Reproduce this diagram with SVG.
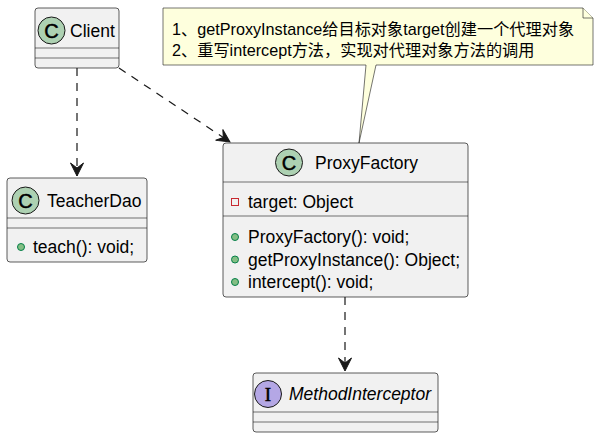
<svg xmlns="http://www.w3.org/2000/svg" width="599" height="442" viewBox="0 0 599 442">
<style>
.box{fill:#F1F1F1;stroke:#181818;stroke-width:0.7}
.sep{stroke:#181818;stroke-width:0.6}
.t{font-family:"Liberation Sans",Arial,sans-serif;font-size:17.5px;fill:#000}
.it{font-style:italic}
.cls{fill:#ADD1B2;stroke:#181818;stroke-width:1}
.ifc{fill:#B4A7E5;stroke:#181818;stroke-width:1}
.glyph{font-family:"Liberation Sans",Arial,sans-serif;font-size:20px;font-weight:normal;text-anchor:middle;fill:#000;stroke:#000;stroke-width:0.5}
.gi{font-family:"Liberation Serif","Times New Roman",serif;font-size:19px;font-weight:normal;text-anchor:middle;fill:#000;stroke:#000;stroke-width:0.5}
.pub{fill:#84BE84;stroke:#038048;stroke-width:1}
.priv{fill:none;stroke:#C82930;stroke-width:1}
.note{fill:#FEFFDD;stroke:#181818;stroke-width:0.6}
.nt{font-family:"Liberation Sans","Noto Sans CJK SC",sans-serif;font-size:16.2px;fill:#000}
.edge{fill:none;stroke:#181818;stroke-width:1.2;stroke-dasharray:8,7}
</style>
<defs>
<marker id="arr" markerUnits="userSpaceOnUse" markerWidth="16" markerHeight="16" viewBox="-14 -8 16 16" refX="0" refY="0" orient="auto">
<path d="M0,0 L-13,-6.5 L-8,0 L-13,6.5 Z" fill="#181818" stroke="#181818" stroke-width="1"/>
</marker>
</defs>

<g id="edges">
<path class="edge" d="M77,68 L77,176" marker-end="url(#arr)"/>
<path class="edge" d="M119,68 L230,142" marker-end="url(#arr)"/>
<path class="edge" d="M345,297 L345,371" marker-end="url(#arr)"/>
</g>

<g id="note">
<path class="note" d="M163,8 L583,8 L593,18 L593,65 L376,65 L359,143 L366,65 L163,65 Z"/>
<path class="note" d="M583,8 L583,18 L593,18" fill="none"/>
<text class="nt" x="172" y="35">1、getProxyInstance给目标对象target创建一个代理对象</text>
<text class="nt" x="172" y="56">2、重写intercept方法，实现对代理对象方法的调用</text>
</g>

<g id="Client">
<rect class="box" x="35" y="8" width="84" height="60" rx="3"/>
<line class="sep" x1="35" y1="48" x2="119" y2="48"/>
<line class="sep" x1="35" y1="58" x2="119" y2="58"/>
<circle class="cls" cx="51.5" cy="30.5" r="13.5"/>
<text class="glyph" x="51.5" y="37.5">C</text>
<text class="t" x="70" y="37">Client</text>
</g>

<g id="TeacherDao">
<rect class="box" x="7" y="178" width="140" height="84" rx="3"/>
<line class="sep" x1="7" y1="218" x2="147" y2="218"/>
<line class="sep" x1="7" y1="228" x2="147" y2="228"/>
<circle class="cls" cx="25.5" cy="200.5" r="13.5"/>
<text class="glyph" x="25.5" y="207.5">C</text>
<text class="t" x="47" y="207">TeacherDao</text>
<circle class="pub" cx="21" cy="247" r="3.5"/>
<text class="t" x="33" y="253">teach(): void;</text>
</g>

<g id="ProxyFactory">
<rect class="box" x="223" y="143" width="245" height="154" rx="3"/>
<line class="sep" x1="223" y1="182" x2="468" y2="182"/>
<line class="sep" x1="223" y1="216" x2="468" y2="216"/>
<circle class="cls" cx="289" cy="162.5" r="13.5"/>
<text class="glyph" x="289" y="169.5">C</text>
<text class="t" x="315" y="169">ProxyFactory</text>
<rect class="priv" x="231.5" y="198.5" width="7" height="7"/>
<text class="t" x="248" y="208">target: Object</text>
<circle class="pub" cx="235" cy="237" r="3.5"/>
<text class="t" x="248" y="243">ProxyFactory(): void;</text>
<circle class="pub" cx="235" cy="259.5" r="3.5"/>
<text class="t" x="248" y="265.5">getProxyInstance(): Object;</text>
<circle class="pub" cx="235" cy="282" r="3.5"/>
<text class="t" x="248" y="288">intercept(): void;</text>
</g>

<g id="MethodInterceptor">
<rect class="box" x="253" y="373" width="185" height="59" rx="3"/>
<line class="sep" x1="253" y1="412" x2="438" y2="412"/>
<line class="sep" x1="253" y1="422" x2="438" y2="422"/>
<circle class="ifc" cx="268" cy="394" r="13.5"/>
<text class="gi" x="268" y="401">I</text>
<text class="t it" x="289" y="400">MethodInterceptor</text>
</g>
</svg>
